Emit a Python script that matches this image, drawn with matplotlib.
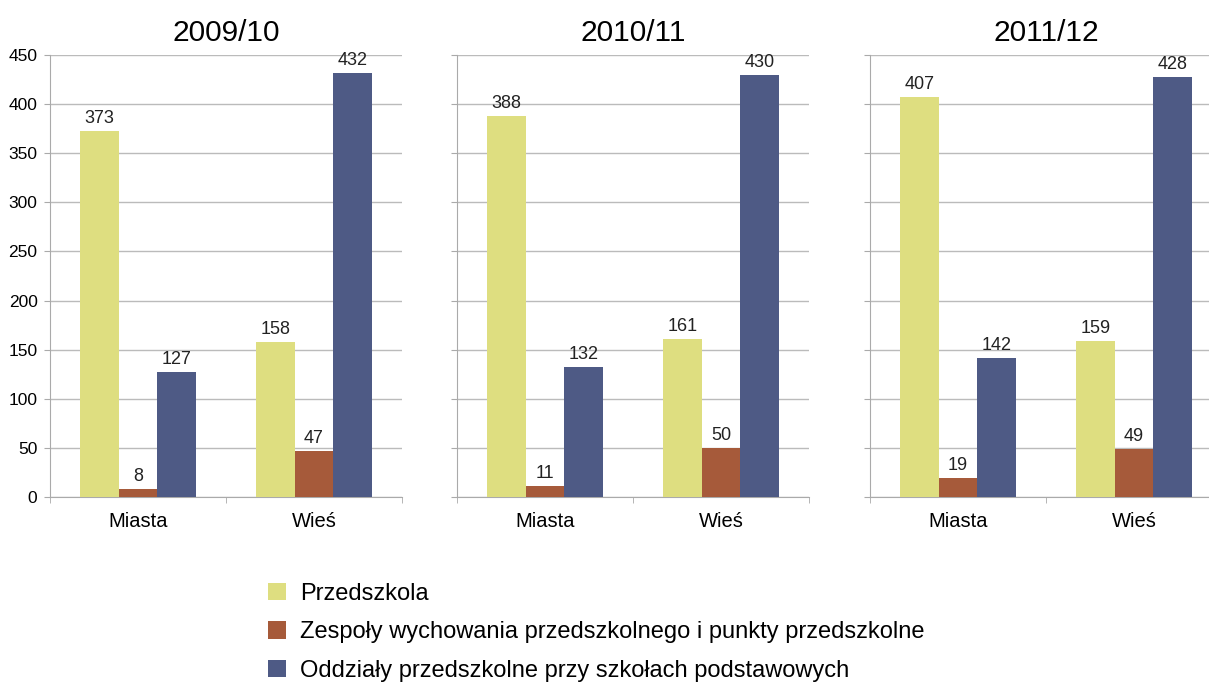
import numpy as np
from matplotlib import pyplot as plt
from matplotlib.patches import Patch

plt.rcParams['font.family'] = ['Liberation Sans', 'DejaVu Sans']

# dane
lata = ['2009/10', '2010/11', '2011/12']
kategorie = ['Miasta', 'Wieś']
serie = ['Przedszkola',
         'Zespoły wychowania przedszkolnego i punkty przedszkolne',
         'Oddziały przedszkolne przy szkołach podstawowych']
przedszkola = [[373, 158], [388, 161], [407, 159]]
zespoly = [[8, 47], [11, 50], [19, 49]]
oddzialy = [[127, 432], [132, 430], [142, 428]]
kolory = ['#DEDE80', '#A65A3A', '#4E5A85']

fig = plt.figure(figsize=(12.09, 6.84), dpi=100)
W, H = 1209, 684
lewe = [50, 457, 870]  # lewa krawedz paneli w px
szer = 352
x = np.arange(len(kategorie))
bw = 0.22
for i, rok in enumerate(lata):
    ax = fig.add_axes([lewe[i] / W, 1 - 497 / H, szer / W, (497 - 55) / H])
    dane = [przedszkola[i], zespoly[i], oddzialy[i]]
    for j in range(3):
        pos = x + (j - 1) * bw
        ax.bar(pos, dane[j], bw, color=kolory[j], zorder=3)
        for p, v in zip(pos, dane[j]):
            ax.text(p, v + 4, str(v), ha='center', va='bottom', fontsize=13, color='#222222')
    ax.set_xlim(-0.5, 1.5)
    ax.set_ylim(0, 450)
    ax.set_yticks(np.arange(0, 451, 50))
    ax.yaxis.grid(True, color='#BBBBBB', linewidth=1, zorder=0)
    ax.set_xticks(x)
    ax.set_xticklabels(kategorie, fontsize=14.5)
    ax.set_xticks([-0.5, 0.5, 1.5], minor=True)
    ax.tick_params(axis='x', which='major', length=0, pad=11)
    ax.tick_params(axis='x', which='minor', length=4, color='#AAAAAA')
    ax.tick_params(axis='y', length=4, color='#AAAAAA', labelsize=12.5, pad=5)
    if i > 0:
        ax.set_yticklabels([])
    for s in ['top', 'right']:
        ax.spines[s].set_visible(False)
    for s in ['left', 'bottom']:
        ax.spines[s].set_color('#AAAAAA')
    ax.set_title(rok, fontsize=21.5, pad=10)

uchwyty = [Patch(facecolor=k) for k in kolory]
fig.legend(uchwyty, serie, loc='upper left', bbox_to_anchor=(256 / W, 1 - 571 / H),
           frameon=False, fontsize=17, handlelength=0.75, handleheight=0.75,
           handletextpad=0.6, labelspacing=0.7, borderpad=0)

fig.savefig('out.png', dpi=100)
